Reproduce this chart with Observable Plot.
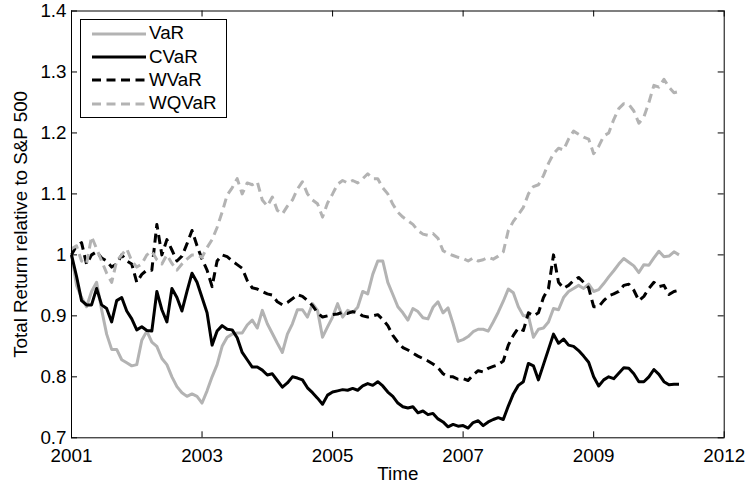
<!DOCTYPE html>
<html>
<head>
<meta charset="utf-8">
<script src="https://cdn.jsdelivr.net/npm/d3@7"></script>
<script src="https://cdn.jsdelivr.net/npm/@observablehq/plot@0.6"></script>
<style>
  html, body { margin: 0; padding: 0; background: #fff; }
  #wrap { position: relative; width: 747px; height: 486px; font-family: "Liberation Sans", Arial, Helvetica, sans-serif; }
  #legend { position: absolute; left: 80px; top: 19px; width: 147px; height: 99px; box-sizing: border-box;
            border: 1px solid #000; background: #fff; padding-top: 2px; }
  .lrow { display: flex; align-items: center; height: 23.3px; }
  .lrow svg { margin-left: 10.5px; flex: none; }
  .lrow span { margin-left: 3.5px; font-size: 18.8px; color: #000; line-height: 1; }
</style>
</head>
<body>
<div id="wrap"></div>
<script>
// ---- data (sampled every 4 weeks from Jan 2001) ----
const seriesNames = ["VaR", "CVaR", "WVaR", "WQVaR"];
const startYear = 2001;
const stepsPerYear = 13;

const varVals = [
  1.0, 0.95, 0.93, 0.915, 0.94, 0.955, 0.91, 0.87, 0.845, 0.845,
  0.828, 0.823, 0.818, 0.82, 0.86, 0.875, 0.857, 0.85, 0.83, 0.82,
  0.80, 0.784, 0.774, 0.768, 0.772, 0.768, 0.757, 0.777, 0.80, 0.82,
  0.85, 0.865, 0.87, 0.872, 0.872, 0.885, 0.893, 0.88, 0.909, 0.887,
  0.871, 0.855, 0.84, 0.87, 0.887, 0.91, 0.91, 0.898, 0.92, 0.909,
  0.865, 0.882, 0.898, 0.92, 0.898, 0.909, 0.905, 0.914, 0.94, 0.936,
  0.968, 0.99, 0.99, 0.955, 0.935, 0.915, 0.905, 0.893, 0.912, 0.907,
  0.897, 0.895, 0.914, 0.923, 0.905, 0.913, 0.887, 0.858, 0.861, 0.866,
  0.874, 0.878, 0.878, 0.875, 0.89, 0.906, 0.924, 0.944, 0.938, 0.915,
  0.90, 0.90, 0.865, 0.878, 0.88, 0.89, 0.912, 0.91, 0.93, 0.94,
  0.945, 0.95, 0.945, 0.952, 0.94, 0.943, 0.953, 0.964, 0.974, 0.985,
  0.994, 0.988, 0.982, 0.971, 0.984, 0.983, 0.995, 1.006, 0.997, 0.998,
  1.005, 1.0
];

const cvarVals = [
  1.0, 0.965, 0.925, 0.918, 0.918, 0.945, 0.918, 0.912, 0.89, 0.925,
  0.93, 0.908, 0.895, 0.877, 0.882, 0.876, 0.875, 0.94, 0.91, 0.89,
  0.945, 0.93, 0.908, 0.94, 0.97, 0.955, 0.93, 0.905, 0.852, 0.875,
  0.884, 0.878, 0.877, 0.864, 0.84, 0.828, 0.816, 0.816, 0.811, 0.803,
  0.805, 0.794, 0.783, 0.79, 0.80, 0.798, 0.795, 0.782, 0.774, 0.765,
  0.755, 0.77, 0.775, 0.777, 0.779, 0.778, 0.781, 0.778, 0.785, 0.789,
  0.786, 0.792, 0.785, 0.775, 0.768, 0.757, 0.751, 0.749, 0.751, 0.741,
  0.744, 0.738, 0.74, 0.731, 0.726, 0.718, 0.722, 0.719, 0.72, 0.716,
  0.725, 0.728, 0.72, 0.726, 0.73, 0.733, 0.73, 0.752, 0.772, 0.786,
  0.792, 0.822, 0.818, 0.795, 0.82, 0.845, 0.87, 0.855, 0.862, 0.852,
  0.85, 0.843, 0.834, 0.824, 0.80, 0.785, 0.795, 0.80, 0.797, 0.806,
  0.815, 0.814, 0.805, 0.792, 0.792, 0.80, 0.812, 0.804, 0.792, 0.787,
  0.788, 0.788
];

const wvarVals = [
  1.0, 1.015, 1.02, 0.985, 1.0, 1.005, 0.995, 0.99, 0.98, 0.985,
  1.0, 0.99, 0.985, 0.955, 0.968, 0.975, 0.975, 1.05, 1.0, 1.025,
  1.008, 0.99, 0.998, 1.018, 1.04, 1.015, 0.993, 0.975, 0.948, 0.99,
  1.0, 0.997, 0.99, 0.984, 0.978, 0.958, 0.946, 0.944, 0.94, 0.936,
  0.934, 0.923, 0.918, 0.922, 0.928, 0.935, 0.932, 0.925, 0.917, 0.905,
  0.898, 0.9, 0.902, 0.903, 0.906, 0.904, 0.907, 0.905, 0.9, 0.898,
  0.9, 0.902, 0.894, 0.884, 0.868, 0.857, 0.848, 0.844, 0.839, 0.834,
  0.83, 0.826, 0.821, 0.815, 0.805, 0.80, 0.80, 0.796, 0.797, 0.794,
  0.803, 0.81, 0.808, 0.814, 0.817, 0.82, 0.826, 0.852, 0.868, 0.88,
  0.876, 0.905, 0.9, 0.905, 0.93, 0.945, 1.0, 0.955, 0.945, 0.95,
  0.958, 0.963, 0.955, 0.946, 0.915, 0.915, 0.925, 0.933, 0.936, 0.94,
  0.95, 0.952, 0.942, 0.925, 0.932, 0.945, 0.955, 0.948, 0.95, 0.935,
  0.94, 0.942
];

const wqvarVals = [
  1.01, 1.015, 0.99, 0.985, 1.03, 1.01, 0.99, 0.97, 0.955, 0.99,
  1.0, 1.01, 0.99, 0.98, 0.985, 1.0, 1.006, 0.992, 0.985, 1.0,
  0.986, 0.975, 0.985, 0.993, 1.0, 1.0, 0.996, 1.012, 1.025, 1.045,
  1.07, 1.098, 1.11, 1.125, 1.1, 1.118, 1.115, 1.12, 1.09, 1.08,
  1.095, 1.073, 1.067, 1.08, 1.09, 1.108, 1.12, 1.1, 1.09, 1.084,
  1.062, 1.085, 1.1, 1.116, 1.122, 1.118, 1.122, 1.118, 1.125, 1.133,
  1.125, 1.125, 1.11, 1.1, 1.083, 1.07, 1.062, 1.056, 1.05, 1.04,
  1.034, 1.032, 1.035, 1.027, 1.007, 1.002, 0.999, 0.996, 0.994, 0.99,
  0.995, 0.99, 0.992, 0.996, 0.993, 0.998, 1.005, 1.04, 1.055, 1.066,
  1.078, 1.10, 1.112, 1.115, 1.13, 1.15, 1.166, 1.175, 1.172, 1.19,
  1.203, 1.198, 1.193, 1.19, 1.166, 1.178, 1.195, 1.2, 1.222, 1.24,
  1.248, 1.247, 1.236, 1.216, 1.226, 1.25, 1.278, 1.275, 1.288, 1.275,
  1.266, 1.268
];

const xTicks = [2001, 2003, 2005, 2007, 2009, 2011];
const xTickLabels = ["2001", "2003", "2005", "2007", "2009", "2012"];
const yTicks = [0.7, 0.8, 0.9, 1.0, 1.1, 1.2, 1.3, 1.4];
const yTickLabels = ["0.7", "0.8", "0.9", "1", "1.1", "1.2", "1.3", "1.4"];
const xLabel = "Time";
const yLabel = "Total Return relative to S&P 500";

// ---- styles ----
const gray = "#b3b3b3";
const styles = {
  VaR:   {stroke: gray,   dash: null},
  CVaR:  {stroke: "#000", dash: null},
  WVaR:  {stroke: "#000", dash: "9,5.5"},
  WQVaR: {stroke: gray,   dash: "9,5.5"}
};
const lineWidth = 3;

const valueLists = [varVals, cvarVals, wvarVals, wqvarVals];
const tables = seriesNames.map((name, k) =>
  valueLists[k].map((v, i) => ({t: startYear + i / stepsPerYear, v, s: name}))
);

const W = 747, H = 486;
const mL = 71, mR = 23.3, mT = 10.5, mB = 48.7;
const plotW = W - mL - mR, plotH = H - mT - mB;
const tickLen = 6;
const fs = "18.8px";
const font = "'Liberation Sans', Arial, Helvetica, sans-serif";

const chart = Plot.plot({
  width: W, height: H,
  marginLeft: mL, marginRight: mR, marginTop: mT, marginBottom: mB,
  style: {fontFamily: font, fontSize: fs, color: "#000", background: "#fff", overflow: "visible"},
  x: {domain: [2001, 2011]},
  y: {domain: [0.7, 1.4]},
  marks: [
    ...seriesNames.map((name, k) => Plot.line(tables[k], {
      x: "t", y: "v",
      stroke: styles[name].stroke,
      strokeWidth: lineWidth,
      strokeDasharray: styles[name].dash,
      strokeLinejoin: "round",
      strokeLinecap: "butt"
    })),
    Plot.frame({stroke: "#000", strokeWidth: 1}),
    Plot.tickX(xTicks, {x: d => d, insetTop: plotH - tickLen, stroke: "#000", strokeWidth: 1}),
    Plot.tickX(xTicks, {x: d => d, insetBottom: plotH - tickLen, stroke: "#000", strokeWidth: 1}),
    Plot.tickY(yTicks, {y: d => d, insetRight: plotW - tickLen, stroke: "#000", strokeWidth: 1}),
    Plot.tickY(yTicks, {y: d => d, insetLeft: plotW - tickLen, stroke: "#000", strokeWidth: 1}),
    Plot.axisX(xTicks, {tickSize: 0, tickPadding: 10.5, label: null,
      tickFormat: d => xTickLabels[xTicks.indexOf(d)], fontSize: fs}),
    Plot.axisY(yTicks, {tickSize: 0, tickPadding: 5, label: null,
      tickFormat: d => yTickLabels[yTicks.indexOf(d)], fontSize: fs}),
    Plot.text([xLabel], {text: d => d, frameAnchor: "bottom", dy: 36, lineAnchor: "middle",
      textAnchor: "middle", fontSize: fs, fill: "#000"}),
    Plot.text([yLabel], {text: d => d, frameAnchor: "left", dx: -51, rotate: -90, lineAnchor: "middle",
      textAnchor: "middle", fontSize: fs, fill: "#000"})
  ]
});

const wrap = document.getElementById("wrap");
wrap.appendChild(chart);

// ---- legend ----
const legend = document.createElement("div");
legend.id = "legend";
seriesNames.forEach(name => {
  const row = document.createElement("div");
  row.className = "lrow";
  const s = styles[name];
  row.innerHTML =
    `<svg width="54" height="8"><line x1="0" y1="4" x2="54" y2="4" stroke="${s.stroke}" stroke-width="${lineWidth}"` +
    (s.dash ? ` stroke-dasharray="${s.dash}"` : "") + `/></svg><span>${name}</span>`;
  legend.appendChild(row);
});
wrap.appendChild(legend);
</script>
</body>
</html>
